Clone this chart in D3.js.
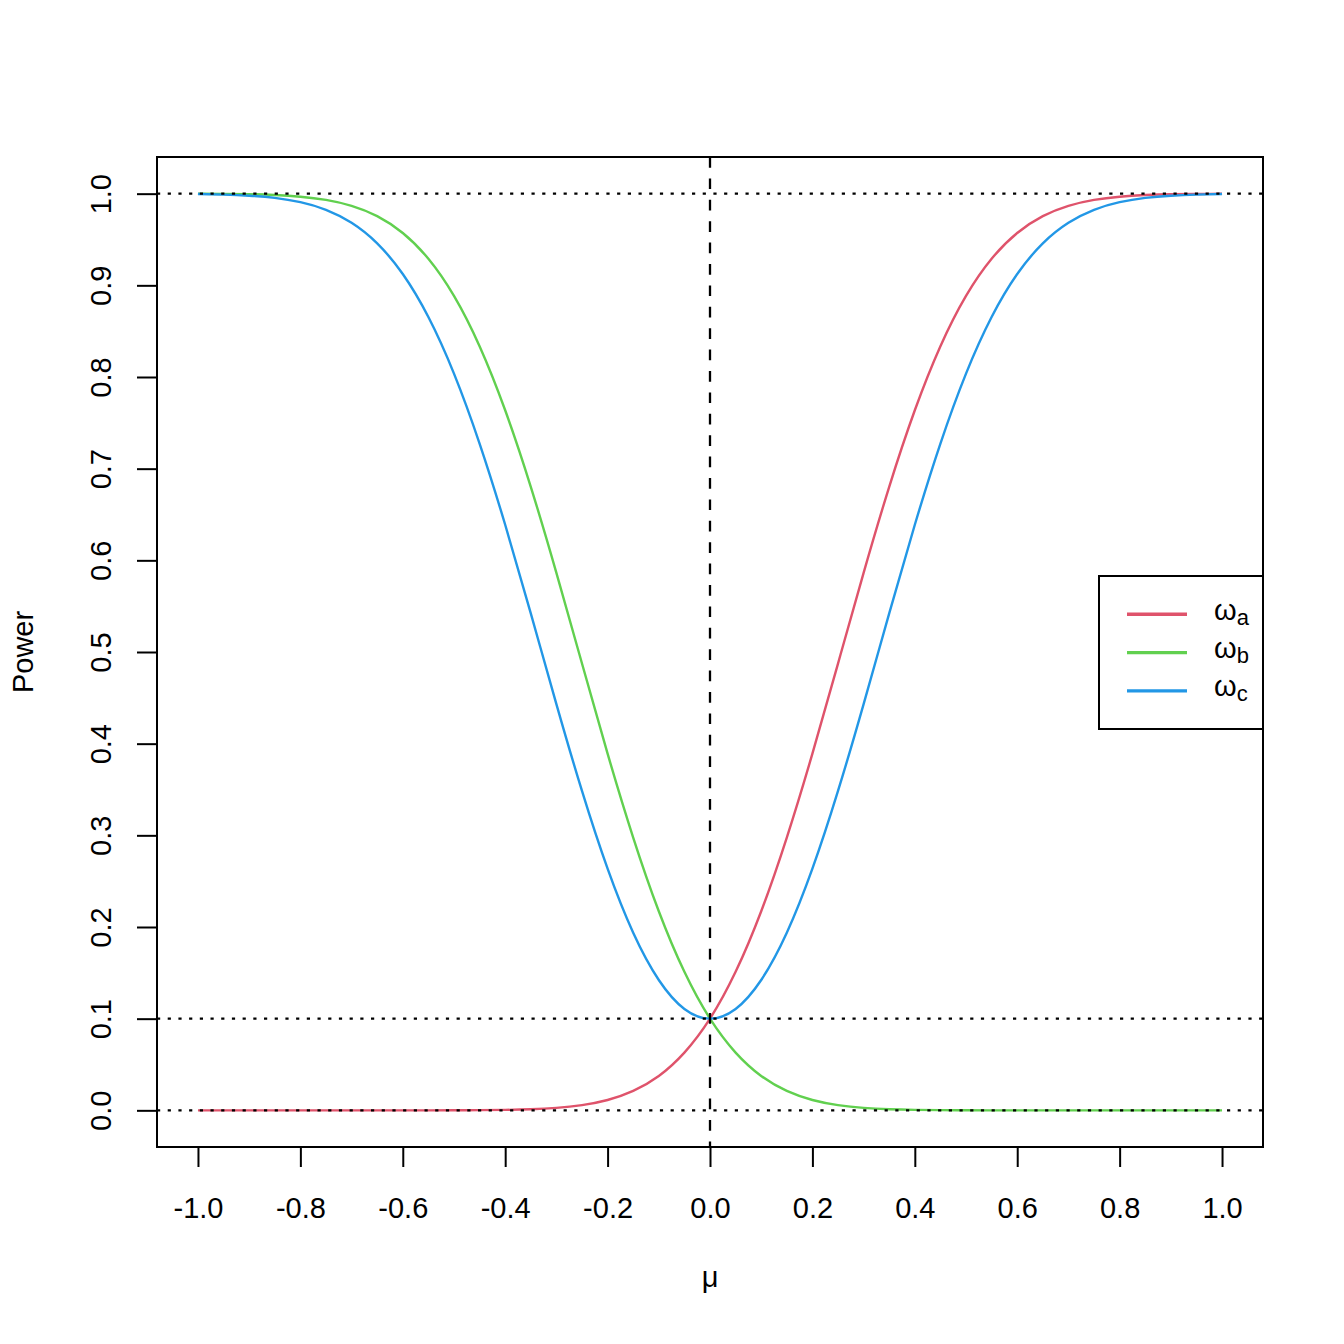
<!DOCTYPE html>
<html>
<head>
<meta charset="utf-8">
<script src="https://cdn.jsdelivr.net/npm/d3@7"></script>
<style>
  html, body { margin: 0; padding: 0; background: #fff; }
  svg { display: block; }
  text { font-family: "Liberation Sans", Arial, Helvetica, sans-serif; fill: #000; }
</style>
</head>
<body>
<svg id="chart" width="1344" height="1344"></svg>
<script>
// ---- data ----
const mu = [-1.00,-0.95,-0.90,-0.85,-0.80,-0.75,-0.70,-0.65,-0.60,-0.55,
            -0.50,-0.45,-0.40,-0.35,-0.30,-0.25,-0.20,-0.15,-0.10,-0.05,
             0.00, 0.05, 0.10, 0.15, 0.20, 0.25, 0.30, 0.35, 0.40, 0.45,
             0.50, 0.55, 0.60, 0.65, 0.70, 0.75, 0.80, 0.85, 0.90, 0.95, 1.00];
const omegaA = [0.0000,0.0000,0.0000,0.0000,0.0000,0.0000,0.0000,0.0000,0.0000,0.0000,
                0.0001,0.0002,0.0005,0.0012,0.0027,0.0057,0.0113,0.0212,0.0375,0.0630,
                0.1000,0.1511,0.2172,0.2976,0.3891,0.4874,0.5864,0.6802,0.7637,0.8336,
                0.8885,0.9290,0.9571,0.9755,0.9867,0.9932,0.9967,0.9985,0.9994,0.9997,0.9999];
const omegaB = [0.9999,0.9997,0.9994,0.9985,0.9967,0.9932,0.9867,0.9755,0.9571,0.9290,
                0.8885,0.8336,0.7637,0.6802,0.5864,0.4874,0.3891,0.2976,0.2172,0.1511,
                0.1000,0.0630,0.0375,0.0212,0.0113,0.0057,0.0027,0.0012,0.0005,0.0002,
                0.0001,0.0000,0.0000,0.0000,0.0000,0.0000,0.0000,0.0000,0.0000,0.0000,0.0000];
const omegaC = [0.9996,0.9990,0.9978,0.9954,0.9907,0.9824,0.9682,0.9458,0.9123,0.8654,
                0.8037,0.7274,0.6388,0.5422,0.4432,0.3484,0.2636,0.1937,0.1422,0.1106,
                0.1000,0.1106,0.1422,0.1937,0.2636,0.3484,0.4432,0.5422,0.6388,0.7274,
                0.8037,0.8654,0.9123,0.9458,0.9682,0.9824,0.9907,0.9954,0.9978,0.9990,0.9996];
const seriesNames = ["a", "b", "c"];
const seriesColors = ["#DF536B", "#61D04F", "#2297E6"];
const xTicks = [-1.0,-0.8,-0.6,-0.4,-0.2,0.0,0.2,0.4,0.6,0.8,1.0];
const yTicks = [0.0,0.1,0.2,0.3,0.4,0.5,0.6,0.7,0.8,0.9,1.0];
const hLines = [0.0, 0.1, 1.0];
const vLines = [0.0];
const xLabel = "μ";
const yLabel = "Power";

// ---- layout ----
const L = 157, R = 1263, T = 157, B = 1147;
const FS = 29;
const x = d3.scaleLinear().domain([-1.08, 1.08]).range([L, R]);
const y = d3.scaleLinear().domain([-0.04, 1.04]).range([B, T]);

const svg = d3.select("#chart");
const series = [omegaA, omegaB, omegaC].map((vals, i) => ({
  name: seriesNames[i], color: seriesColors[i],
  points: mu.map((m, j) => [m, vals[j]])
}));

const line = d3.line().x(d => x(d[0])).y(d => y(d[1])).curve(d3.curveNatural);

svg.append("g").selectAll("path").data(series).join("path")
  .attr("d", d => line(d.points))
  .attr("fill", "none")
  .attr("stroke", d => d.color)
  .attr("stroke-width", 2.4);

// reference lines
svg.append("g").selectAll("line").data(hLines).join("line")
  .attr("x1", L).attr("x2", R)
  .attr("y1", d => y(d)).attr("y2", d => y(d))
  .attr("stroke", "#000").attr("stroke-width", 2.3)
  .attr("stroke-dasharray", "3.2,7.5");
svg.append("g").selectAll("line").data(vLines).join("line")
  .attr("y1", T).attr("y2", B)
  .attr("x1", d => x(d)).attr("x2", d => x(d))
  .attr("stroke", "#000").attr("stroke-width", 2.3)
  .attr("stroke-dasharray", "10.7,10.7");

// box
svg.append("rect").attr("x", L).attr("y", T).attr("width", R - L).attr("height", B - T)
  .attr("fill", "none").attr("stroke", "#000").attr("stroke-width", 2);

// x axis
const xAxis = d3.axisBottom(x).tickValues(xTicks).tickSize(20).tickPadding(0)
  .tickFormat(d3.format(".1f"));
const gx = svg.append("g").attr("transform", `translate(0,${B})`).call(xAxis);
gx.select(".domain").attr("d", `M${x(-1)},0H${x(1)}`).attr("stroke-width", 2);
gx.selectAll(".tick line").attr("stroke-width", 2);
gx.selectAll(".tick text").attr("font-size", FS).attr("dy", null).attr("y", 71)
  .style("font-family", '"Liberation Sans", Arial, sans-serif')
  .text(d => d3.format(".1f")(d).replace("−", "-"));

// y axis
const yAxis = d3.axisLeft(y).tickValues(yTicks).tickSize(20).tickPadding(0)
  .tickFormat(d3.format(".1f"));
const gy = svg.append("g").attr("transform", `translate(${L},0)`).call(yAxis);
gy.select(".domain").attr("d", `M0,${y(0)}V${y(1)}`).attr("stroke-width", 2);
gy.selectAll(".tick line").attr("stroke-width", 2);
gy.selectAll(".tick text").attr("font-size", FS)
  .attr("x", null).attr("dy", null)
  .attr("text-anchor", "middle")
  .attr("transform", "translate(-46,0) rotate(-90)")
  .style("font-family", '"Liberation Sans", Arial, sans-serif');

// axis titles
svg.append("text").attr("x", x(0)).attr("y", 1287).attr("text-anchor", "middle")
  .attr("font-size", FS).text(xLabel);
svg.append("text").attr("transform", `translate(33,${(T + B) / 2}) rotate(-90)`)
  .attr("text-anchor", "middle").attr("font-size", FS).text(yLabel);

// legend
const lg = svg.append("g");
lg.append("rect").attr("x", 1099).attr("y", 576).attr("width", R - 1099).attr("height", 729 - 576)
  .attr("fill", "#fff").attr("stroke", "#000").attr("stroke-width", 2);
const rows = lg.selectAll("g.row").data(series).join("g")
  .attr("transform", (d, i) => `translate(0,${614.3 + i * 38.3})`);
rows.append("line").attr("x1", 1127).attr("x2", 1187).attr("y1", 0).attr("y2", 0)
  .attr("stroke", d => d.color).attr("stroke-width", 3.4);
const t = rows.append("text").attr("x", 1214).attr("y", 5.5).attr("font-size", FS);
t.append("tspan").text("ω");
t.append("tspan").attr("font-size", 22).attr("dy", 5).text(d => d.name);
</script>
</body>
</html>
